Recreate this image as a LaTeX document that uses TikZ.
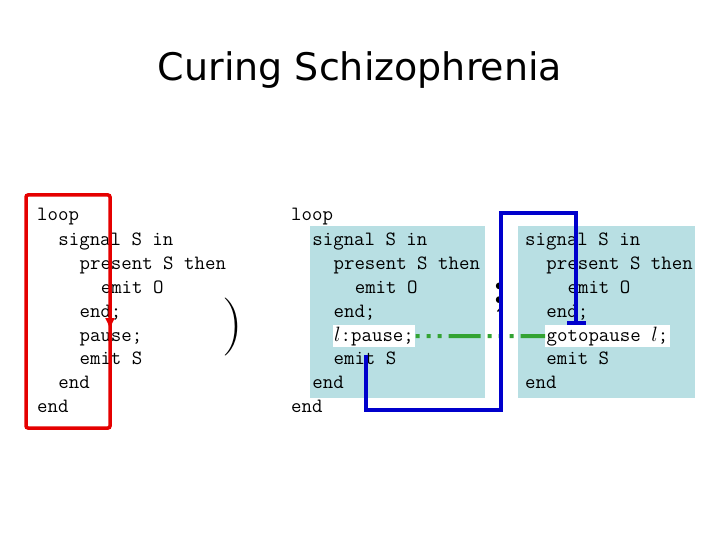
\documentclass[tikz,border=0pt]{standalone}
\usepackage{fontspec}
\usetikzlibrary{arrows.meta}
\newfontfamily\titlefont{DejaVu Sans}
\definecolor{teal1}{HTML}{B8DFE3}
\begin{document}
\begin{tikzpicture}[x=1pt,y=-1pt,
  code/.style={anchor=base west,inner sep=0pt,font=\ttfamily\fontsize{20.3}{23}\selectfont},
  hl/.style={code,fill=white,inner sep=1.5pt},
  shade/.style={fill=teal1,draw=none}]
\useasboundingbox (0,0) rectangle (720,540);
\node[font=\titlefont\fontsize{38}{44}\selectfont] (title) at (360,70) {Curing Schizophrenia};
% left code
\foreach \t/\ind/\y [count=\i] in {loop/0/221,signal S in/2/245,present S then/4/269,emit O/6/293,end;/4/317,pause;/4/341,emit S/4/364,end/2/388,end/0/412}
  \node[code] (L\i) at (37+10.6*\ind,\y) {\t};
\draw[red!90!black,line width=3.5pt,rounded corners=2pt] (26,195) rectangle (110,428);
\draw[red!90!black,line width=2pt,-{Latex[length=12pt,width=10pt]}] (110,300) -- (110,330);
\node[font=\fontsize{58}{60}\selectfont] (paren) at (233,327) {)};
% middle
\fill[shade] (310,226) rectangle (485,398);
\fill[shade] (518,226) rectangle (695,398);
\foreach \t/\ind/\y [count=\i] in {loop/0/221,signal S in/2/245,present S then/4/269,emit O/6/293,end;/4/317,emit S/4/364,end/2/388,end/0/412}
  \node[code] (M\i) at (291+10.6*\ind,\y) {\t};
\node[hl] (Mp) at (332.5,341) {$l$:pause;};
\foreach \t/\ind/\y [count=\i] in {signal S in/0/245,present S then/2/269,emit O/4/293,end;/2/317,emit S/2/364,end/0/388}
  \node[code] (R\i) at (525+10.6*\ind,\y) {\t};
\node[hl] (Rg) at (545,341) {gotopause $l$;};
\node[font=\bfseries\fontsize{46}{50}\selectfont] (semi) at (500,298) {;};
\draw[green!55!black!80,line width=4pt,dash pattern=on 4pt off 7pt on 4pt off 7pt on 4pt off 7pt on 32pt off 7pt] (Mp.east) -- (Rg.west);
\draw[blue!80!black,line width=4pt,-|] (366,355) -- (366,410) -- (501,410) -- (501,213) -- (576,213) -- (576,325);
\end{tikzpicture}
\end{document}
